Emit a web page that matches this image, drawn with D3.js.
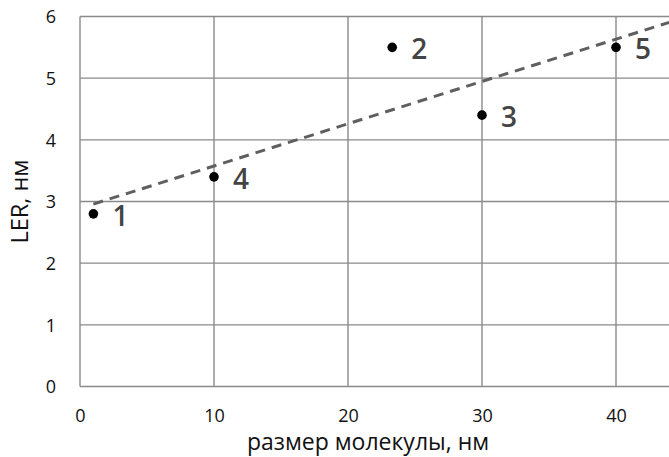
<!DOCTYPE html>
<html>
<head>
<meta charset="utf-8">
<script src="https://cdn.jsdelivr.net/npm/d3@7"></script>
<style>
  html, body { margin: 0; padding: 0; background: #fff; overflow: hidden; }
  svg { display: block; }
</style>
</head>
<body>
<div id="chart"></div>
<script>
// Measured points: molecule size (nm) vs line edge roughness (nm)
const sizes = [1, 23.3, 30, 10, 40];
const lerValues = [2.8, 5.5, 4.4, 3.4, 5.5];
const pointLabels = ["1", "2", "3", "4", "5"];
const xTicks = [0, 10, 20, 30, 40];
const xGrid = [0, 10, 20, 30, 40, 50];
const yTicks = [0, 1, 2, 3, 4, 5, 6];

const W = 669, H = 457;
const margin = { left: 80, top: 16.5, bottom: 70.5 };
const plotRight = 80 + 13.4 * 50;   // the 0–50 axis runs past the right edge

const svg = d3.select("#chart").append("svg")
  .attr("width", W).attr("height", H);

const x = d3.scaleLinear().domain([0, 50]).range([margin.left, plotRight]);
const y = d3.scaleLinear().domain([0, 6]).range([H - margin.bottom, margin.top]);

const gridColor = "#8a8a8a";
const font = "'Open Sans', sans-serif";

// gridlines
svg.append("g").selectAll("line.v").data(xGrid).join("line")
  .attr("x1", d => x(d)).attr("x2", d => x(d))
  .attr("y1", y(0)).attr("y2", y(6))
  .attr("stroke", gridColor).attr("stroke-width", 1.4);
svg.append("g").selectAll("line.h").data(yTicks).join("line")
  .attr("x1", x(0)).attr("x2", x(50))
  .attr("y1", d => y(d)).attr("y2", d => y(d))
  .attr("stroke", gridColor).attr("stroke-width", 1.4);

// axes (labels only; lines come from the grid)
const xAxis = svg.append("g")
  .attr("transform", `translate(0,${y(0)})`)
  .call(d3.axisBottom(x).tickValues(xTicks).tickFormat(d3.format("d"))
    .tickSize(0).tickPadding(23));
const yAxis = svg.append("g")
  .attr("transform", `translate(${x(0)},0)`)
  .call(d3.axisLeft(y).tickValues(yTicks).tickFormat(d3.format("d"))
    .tickSize(0).tickPadding(24));
[xAxis, yAxis].forEach(g => {
  g.select(".domain").remove();
  g.selectAll("text").attr("font-family", font).attr("font-size", 18).attr("fill", "#111");
});
xAxis.selectAll("text").attr("dy", "0.71em");
yAxis.selectAll("text").attr("dy", "0.35em");

// least-squares trend line
const mx = d3.mean(sizes), my = d3.mean(lerValues);
const slope = d3.sum(sizes, (v, i) => (v - mx) * (lerValues[i] - my)) /
              d3.sum(sizes, v => (v - mx) * (v - mx));
const intercept = my - slope * mx;
const trendX = [d3.min(sizes), 50];
svg.append("line")
  .attr("x1", x(trendX[0])).attr("y1", y(intercept + slope * trendX[0]))
  .attr("x2", x(trendX[1])).attr("y2", y(intercept + slope * trendX[1]))
  .attr("stroke", "#5f5f5f").attr("stroke-width", 3)
  .attr("stroke-dasharray", "10,7");

// data points
const pts = sizes.map((s, i) => ({ s, v: lerValues[i], label: pointLabels[i] }));
svg.append("g").selectAll("circle").data(pts).join("circle")
  .attr("cx", d => x(d.s)).attr("cy", d => y(d.v))
  .attr("r", 4.8).attr("fill", "#000");

svg.append("g").selectAll("text").data(pts).join("text")
  .attr("x", d => x(d.s) + 19).attr("y", d => y(d.v) + 12)
  .attr("font-family", font).attr("font-size", 28).attr("font-weight", 600)
  .attr("fill", "#444")
  .text(d => d.label);

// axis titles
svg.append("text")
  .attr("x", 368).attr("y", 450)
  .attr("text-anchor", "middle")
  .attr("font-family", font).attr("font-size", 23).attr("fill", "#111")
  .text("размер молекулы, нм");

svg.append("text")
  .attr("transform", `translate(28,${(y(0) + y(6)) / 2}) rotate(-90)`)
  .attr("text-anchor", "middle")
  .attr("font-family", font).attr("font-size", 23.5).attr("fill", "#111")
  .text("LER, нм");
</script>
</body>
</html>
